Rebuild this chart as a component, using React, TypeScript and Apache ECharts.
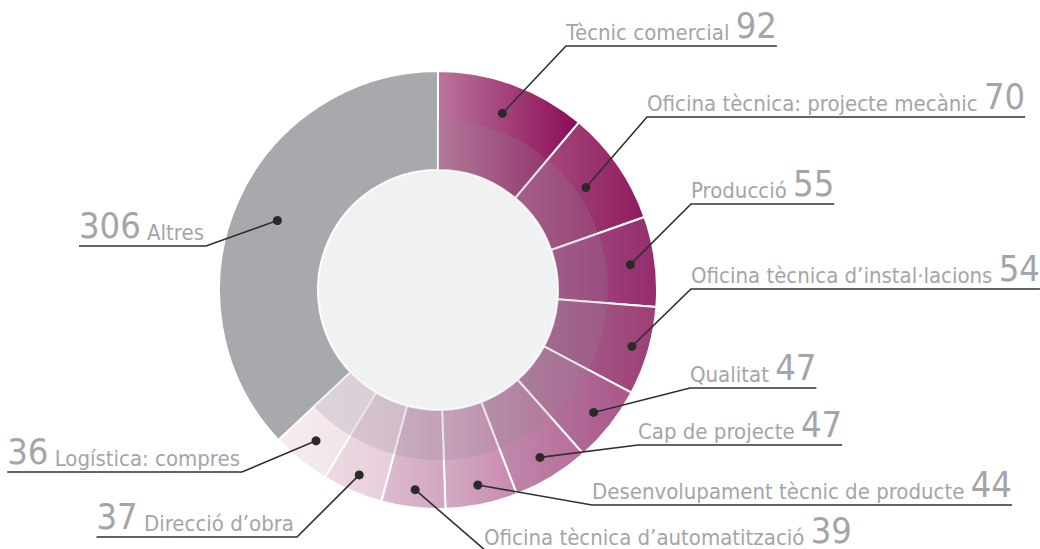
import React, { useEffect, useRef } from 'react';
import * as echarts from 'echarts';

const categories = [
  'Tècnic comercial',
  'Oficina tècnica: projecte mecànic',
  'Producció',
  'Oficina tècnica d’instal·lacions',
  'Qualitat',
  'Cap de projecte',
  'Desenvolupament tècnic de producte',
  'Oficina tècnica d’automatització',
  'Direcció d’obra',
  'Logística: compres',
  'Altres',
];
const values = [92, 70, 55, 54, 47, 47, 44, 39, 37, 36, 306];

const colorsLight = ['#bb759d', '#ab5686', '#a4508a', '#a8628f', '#b47aa0', '#c291b1', '#d3acc4', '#dcbccf', '#eddae3', '#f5ecf1', '#a8a9ad'];
const colorsDark = ['#8a0a56', '#8f1b5e', '#952c6b', '#9d3f76', '#aa5789', '#b86b99', '#c889b0', '#d2a6c1', '#e5cbd8', '#f0e2e9', '#a8a9ad'];

// label layout: side, elbow x, underline y, text x, dot radius
const labelSpots = [
  { side: 'r', ex: 566, ly: 46, tx: 566, dr: 188 },
  { side: 'r', ex: 647, ly: 117, tx: 647, dr: 180 },
  { side: 'r', ex: 691, ly: 204, tx: 691, dr: 194 },
  { side: 'r', ex: 691, ly: 289, tx: 691, dr: 202 },
  { side: 'r', ex: 690, ly: 388, tx: 690, dr: 198 },
  { side: 'r', ex: 638, ly: 445, tx: 638, dr: 196 },
  { side: 'r', ex: 592, ly: 505, tx: 592, dr: 199 },
  { side: 'r', ex: 486, ly: 551, tx: 484, dr: 201 },
  { side: 'l', ex: 297, ly: 537, tx: 294, dr: 201 },
  { side: 'l', ex: 242, ly: 472, tx: 240, dr: 194 },
  { side: 'l', ex: 206, ly: 246, tx: 204, dr: 175 },
];

const CX = 438;
const CY = 290;
const R_OUT = 219;
const R_SPLIT = 170;
const R_IN = 120;
const FONT = "'Liberation Sans Narrow', 'DejaVu Sans Condensed', 'Roboto', sans-serif";
const NAME_SIZE = 22;
const VALUE_SIZE = 36;
const TEXT_COLOR = '#a4a5a9';

function measure(text: string, size: number): number {
  const c = document.createElement('canvas').getContext('2d');
  if (!c) return text.length * size * 0.5;
  c.font = `${size}px ${FONT}`;
  return c.measureText(text).width;
}

function labelText(i: number) {
  const s = labelSpots[i];
  return s.side === 'r'
    ? { n: `${categories[i]} `, v: `${values[i]}`, rich: `{n|${categories[i]} }{v|${values[i]}}` }
    : { n: ` ${categories[i]}`, v: `${values[i]}`, rich: `{v|${values[i]}}{n| ${categories[i]}}` };
}

export default function App() {
  const ref = useRef<HTMLDivElement>(null);
  useEffect(() => {
    if (!ref.current) return;
    const chart = echarts.init(ref.current, undefined, { renderer: 'svg' });
    const total = values.reduce((a, b) => a + b, 0);

    const mainData = categories.map((name, i) => ({
      name,
      value: values[i],
      itemStyle: {
        color: new echarts.graphic.LinearGradient(0, 0, 1, 0, [
          { offset: 0, color: colorsLight[i] },
          { offset: 1, color: colorsDark[i] },
        ]),
      },
    }));
    const overlayData = categories.map((name, i) => ({
      name,
      value: values[i],
      itemStyle: { color: i === values.length - 1 ? 'rgba(0,0,0,0)' : 'rgba(140,138,145,0.22)' },
    }));

    chart.setOption({
      animation: false,
      series: [
        {
          type: 'pie',
          z: 1,
          center: [CX, CY],
          radius: [0, R_IN + 1],
          silent: true,
          label: { show: false },
          labelLine: { show: false },
          data: [{ value: 1, itemStyle: { color: '#f0f1f3' } }],
        },
        {
          type: 'pie',
          z: 2,
          center: [CX, CY],
          radius: [R_IN, R_OUT],
          startAngle: 90,
          clockwise: true,
          silent: true,
          avoidLabelOverlap: false,
          itemStyle: { borderColor: '#ffffff', borderWidth: 2 },
          data: mainData,
          label: {
            show: true,
            position: 'outside',
            fontFamily: FONT,
            formatter: (p: any) => labelText(p.dataIndex).rich,
            rich: {
              n: { fontSize: NAME_SIZE, lineHeight: 28, verticalAlign: 'bottom', color: TEXT_COLOR, fontFamily: FONT },
              v: { fontSize: VALUE_SIZE, lineHeight: 36, verticalAlign: 'bottom', color: TEXT_COLOR, fontFamily: FONT },
            },
          },
          labelLine: { show: false },
          labelLayout: (p: any) => {
            const s = labelSpots[p.dataIndex];
            return {
              x: s.tx,
              y: s.ly - 3,
              align: s.side === 'r' ? 'left' : 'right',
              verticalAlign: 'bottom',
            };
          },
        },
        {
          type: 'pie',
          z: 3,
          center: [CX, CY],
          radius: [R_IN, R_SPLIT],
          startAngle: 90,
          clockwise: true,
          silent: true,
          itemStyle: { borderWidth: 0 },
          label: { show: false },
          labelLine: { show: false },
          data: overlayData,
        },
        {
          type: 'custom',
          z: 20,
          coordinateSystem: 'none',
          silent: true,
          data: values.map((v, i) => [i, v]),
          renderItem: (params: any) => {
            const i = params.dataIndex;
            const s = labelSpots[i];
            let before = 0;
            for (let k = 0; k < i; k++) before += values[k];
            const ang = ((before + values[i] / 2) / total) * Math.PI * 2;
            const dx = CX + s.dr * Math.sin(ang);
            const dy = CY - s.dr * Math.cos(ang);
            const t = labelText(i);
            const w = measure(t.n, NAME_SIZE) + measure(t.v, VALUE_SIZE);
            const endX = s.side === 'r' ? s.tx + w : s.tx - w;
            return {
              type: 'group',
              children: [
                {
                  type: 'polyline',
                  z2: 50,
                  shape: { points: [[dx, dy], [s.ex, s.ly], [endX, s.ly]] },
                  style: { stroke: '#303030', lineWidth: 1.6, fill: null },
                },
                {
                  type: 'circle',
                  z2: 51,
                  shape: { cx: dx, cy: dy, r: 4.5 },
                  style: { fill: '#2a2a2a' },
                },
              ],
            };
          },
        },
      ],
    });
    return () => chart.dispose();
  }, []);

  return (
    <div
      ref={ref}
      style={{ position: 'fixed', left: 0, top: 0, width: 1040, height: 549, background: '#ffffff' }}
    />
  );
}
